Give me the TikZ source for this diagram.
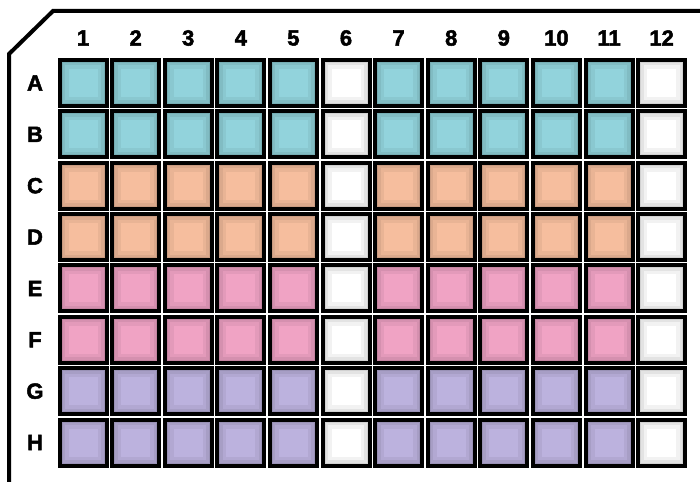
\documentclass[tikz,border=0pt]{standalone}
\usepackage{fontspec}
\newfontfamily\platefont{Liberation Sans}[BoldFeatures={FakeBold=2.2}]
\usepackage{tikz}

\definecolor{tealwell}{RGB}{146,211,220}
\definecolor{peachwell}{RGB}{246,190,158}
\definecolor{pinkwell}{RGB}{240,163,196}
\definecolor{lilacwell}{RGB}{188,178,222}

\begin{document}
\begin{tikzpicture}[x=1pt, y=-1pt,
	every node/.style={font=\platefont\fontsize{22}{22}\selectfont\bfseries},
	well/.style={draw=black, line width=4pt, minimum width=47pt, minimum height=46pt, inner sep=0pt,
		path picture={
			\draw[black, opacity=.05, line width=18pt] (path picture bounding box.south west) rectangle (path picture bounding box.north east);
			\draw[black, opacity=.06, line width=11pt] (path picture bounding box.south west) rectangle (path picture bounding box.north east);
			\draw[black, opacity=.08, line width=6pt] (path picture bounding box.south west) rectangle (path picture bounding box.north east);
		}}]
	\useasboundingbox (0,0) rectangle (700,481);
	% plate outline with cut corner
	\draw[line width=4pt] (9,485) -- (9,54) -- (53,11) -- (705,11);
	% column numbers
	\foreach \c in {1,...,12}
		\node (col\c) at ({83+52.6*(\c-1)},38) {\c};
	% rows and wells
	\foreach \r/\col [count=\i] in {A/tealwell,B/tealwell,C/peachwell,D/peachwell,E/pinkwell,F/pinkwell,G/lilacwell,H/lilacwell} {
		\node (row\r) at (35,{83+51.36*(\i-1)}) {\r};
		\foreach \c in {1,...,12} {
			\ifnum\c=6 \def\fc{white}\else\ifnum\c=12 \def\fc{white}\else\def\fc{\col}\fi\fi
			\node[well, fill=\fc] (w-\r-\c) at ({83+52.6*(\c-1)},{83+51.36*(\i-1)}) {};
		}
	}
\end{tikzpicture}
\end{document}
